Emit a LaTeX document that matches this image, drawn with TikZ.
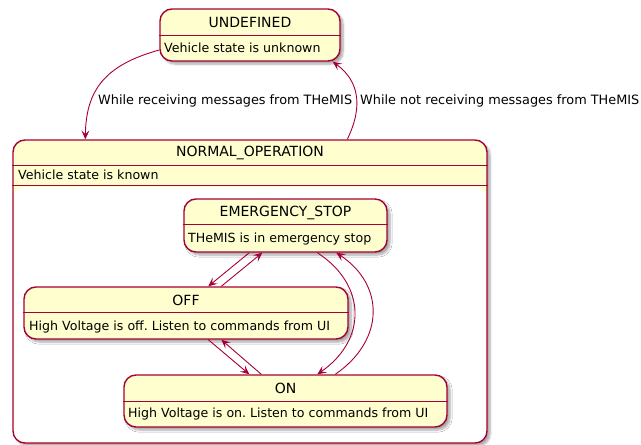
\documentclass[tikz,border=0pt]{standalone}
\usepackage{fontspec}
\setmainfont{DejaVu Sans}
\usetikzlibrary{arrows.meta,calc,shadows.blur}
\frenchspacing

\definecolor{stfill}{HTML}{FEFECE}
\definecolor{stline}{HTML}{A80036}

\tikzset{
  statebox/.style={draw=stline, line width=1.4pt, fill=stfill, rounded corners=12pt,
    inner sep=0pt, blur shadow={shadow xshift=3pt, shadow yshift=-3pt, shadow opacity=35, shadow blur steps=6}},
  sepline/.style={draw=stline, line width=1pt},
  title/.style={font=\fontsize{14}{16}\selectfont, inner sep=0pt},
  desc/.style={font=\fontsize{12.6}{14}\selectfont, inner sep=0pt, anchor=west},
  lbl/.style={font=\fontsize{12.85}{15}\selectfont, inner sep=0pt, anchor=west},
  trans/.style={draw=stline, line width=0.9pt, -{Stealth[length=9pt,width=8pt,inset=4pt]}},
}

\begin{document}
\begin{tikzpicture}[x=1pt,y=-1pt]
\useasboundingbox (0,0) rectangle (641,445);

% composite state NORMAL_OPERATION
\node[statebox, minimum width=474pt, minimum height=303pt] (normal) at (250,291.5) {};
\fill[white, rounded corners=10pt] ($(normal.north west)+(2,48)$) rectangle ($(normal.south east)+(-2,-2)$);
\draw[sepline] ($(normal.north west)+(0,26)$) -- ($(normal.north east)+(0,26)$);
\draw[sepline] ($(normal.north west)+(0,46)$) -- ($(normal.north east)+(0,46)$);
\node[title] (normaltitle) at (250,153) {NORMAL\_OPERATION};
\node[desc] (normaldesc) at (18,175) {Vehicle state is known};

% UNDEFINED
\node[statebox, minimum width=180pt, minimum height=52pt] (undef) at (250,35) {};
\draw[sepline] ($(undef.north west)+(0,27)$) -- ($(undef.north east)+(0,27)$);
\node[title] (undeftitle) at (250,22) {UNDEFINED};
\node[desc] (undefdesc) at (164,48) {Vehicle state is unknown};

% EMERGENCY_STOP
\node[statebox, minimum width=203pt, minimum height=53pt] (es) at (285.5,225.5) {};
\draw[sepline] ($(es.north west)+(0,26)$) -- ($(es.north east)+(0,26)$);
\node[title] (estitle) at (285.5,213) {EMERGENCY\_STOP};
\node[desc] (esdesc) at (188,239) {THeMIS is in emergency stop};

% OFF
\node[statebox, minimum width=324pt, minimum height=52pt] (off) at (186,313) {};
\draw[sepline] ($(off.north west)+(0,26)$) -- ($(off.north east)+(0,26)$);
\node[title] (offtitle) at (186,300) {OFF};
\node[desc] (offdesc) at (29,327) {High Voltage is off. Listen to commands from UI};

% ON
\node[statebox, minimum width=323pt, minimum height=52pt] (on) at (285.5,401) {};
\draw[sepline] ($(on.north west)+(0,27)$) -- ($(on.north east)+(0,27)$);
\node[title] (ontitle) at (285.5,388) {ON};
\node[desc] (ondesc) at (128,414) {High Voltage is on. Listen to commands from UI};

% transitions between UNDEFINED and NORMAL_OPERATION
\draw[trans] ($(undef.west)+(0,15)$) .. controls (105,65) and (86,90) .. ($(normal.north west)+(73,0)$);
\node[lbl] (recv) at (98,101) {While receiving messages from THeMIS};
\draw[trans] ($(normal.north west)+(335,0)$) .. controls (364,105) and (358,80) .. ($(undef.south east)+(-8,0)$);
\node[lbl] (norecv) at (360,101) {While not receiving messages from THeMIS};

% transitions inside NORMAL_OPERATION
\draw[trans] ($(es.south west)+(66,0)$) -- ($(off.north west)+(185,0)$);
\draw[trans] ($(off.north west)+(198,0)$) -- ($(es.south west)+(79,0)$);
\draw[trans] ($(off.south west)+(185,0)$) -- ($(on.north west)+(126,0)$);
\draw[trans] ($(on.north west)+(138,0)$) -- ($(off.south west)+(198,0)$);
\draw[trans] ($(es.south west)+(134,0)$) .. controls (367,285) and (367,340) .. ($(on.north west)+(194,0)$);
\draw[trans] ($(on.north west)+(212,0)$) .. controls (385,340) and (385,285) .. ($(es.south west)+(153,0)$);
\end{tikzpicture}
\end{document}
